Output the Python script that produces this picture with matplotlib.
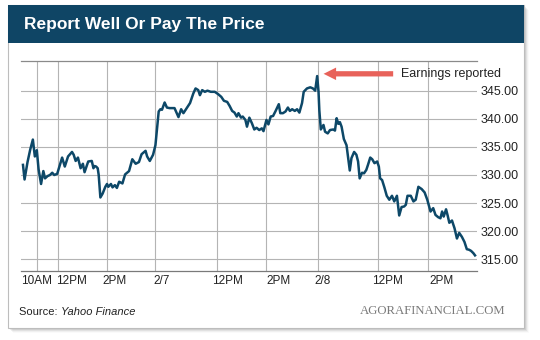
import matplotlib
matplotlib.use("Agg")
import matplotlib.pyplot as plt
from matplotlib.patches import Rectangle

plt.rcParams['font.family'] = ['Liberation Sans', 'DejaVu Sans']

# Intraday position (chart time units) and share price over three sessions
t = [17.7, 19.3, 22.3, 25, 27.7, 29.7, 31.7, 33.5, 36, 38.3, 40, 42.5, 45, 47.3, 49.3,
     52.3, 55, 57.3, 60, 63.3, 67.3, 69, 71, 73.3, 76, 78.3, 80, 83.7, 87.3, 89, 90,
     91.7, 93.3, 94.3, 96, 98.3, 101, 102.7, 104, 106.7, 108.3, 110.7, 112.7, 115,
     118.3, 121, 125, 128.3, 131.7, 135, 137.7, 141.7, 143.3, 146, 149.3, 151.7,
     153.5, 155, 156.7, 158.3, 161, 163.3, 166, 169.3, 171, 175, 177.7, 180, 183.3,
     186.7, 190, 192.3, 195, 196.7, 199, 201.7, 204.3, 207.7, 211.7, 215, 218.3, 221,
     224.3, 226.7, 229.3, 231.7, 234, 235.7, 238.3, 240, 242.7, 244.3, 246.7, 249.3,
     251.7, 254, 256.7, 259.3, 261, 264, 266, 268.3, 270.7, 273.3, 276.5, 278, 280.7,
     283.3, 285.7, 287.7, 290, 292.7, 295, 297.3, 300, 301.7, 305, 308.3, 311, 313.3,
     315.3, 316.7, 317.5, 319, 321.7, 323.3, 326, 328.3, 331.7, 333.3, 335, 336.7,
     338.3, 340, 342.3, 345, 346.7, 348.3, 350, 352.7, 355, 356.7, 358.3, 360.7,
     362.7, 365, 366.7, 369, 371, 373.3, 376, 377.7, 379, 381, 383.3, 385.7, 388.3,
     391, 393.3, 396, 398.3, 400.7, 403.3, 405, 406.7, 410, 412.7, 415, 417.7, 421,
     424, 426.7, 430, 432.7, 435, 437.7, 440, 441.7, 443.3, 445.7, 447.3, 449, 451.7,
     454.3, 456.7, 459, 461.7, 464.3, 466.7, 469, 471, 473.3, 475]
price = [331.8, 329.2, 332.3, 334.5, 336.3, 333.3, 334.4, 331.0, 328.4, 330.7, 329.4,
         329.8, 330.0, 330.4, 330.0, 330.2, 331.8, 333.1, 331.5, 333.3, 334.1, 333.6,
         332.5, 333.1, 331.2, 332.0, 330.5, 332.4, 332.5, 331.2, 331.6, 331.5, 331.2,
         330.0, 326.0, 326.7, 327.9, 328.4, 327.9, 328.4, 327.8, 328.2, 327.7, 328.8,
         328.5, 330.1, 330.7, 332.8, 332.0, 332.3, 333.7, 334.3, 333.3, 332.5, 333.6,
         335.3, 338.5, 341.3, 341.7, 341.6, 342.9, 342.0, 341.9, 341.9, 341.9, 340.3,
         341.7, 341.0, 341.9, 342.8, 344.5, 345.4, 345.1, 344.2, 345.1, 344.8, 345.0,
         344.8, 344.8, 344.4, 343.9, 343.2, 343.0, 342.3, 341.4, 341.1, 340.4, 341.0,
         340.2, 340.4, 339.8, 338.6, 340.2, 339.2, 338.1, 338.4, 338.0, 338.3, 337.8,
         339.8, 339.0, 340.4, 340.5, 341.4, 342.6, 341.0, 341.0, 341.3, 342.0, 341.4,
         341.7, 341.4, 341.7, 341.1, 342.8, 344.8, 345.4, 345.6, 345.4, 345.0, 347.6,
         344.8, 341.5, 338.1, 338.9, 337.7, 337.4, 338.0, 338.1, 337.9, 340.1, 339.1,
         339.4, 338.6, 336.4, 335.3, 333.0, 330.8, 333.0, 334.1, 333.6, 332.4, 329.4,
         330.4, 330.3, 330.9, 331.8, 333.1, 332.8, 332.1, 332.4, 331.5, 329.4, 329.1,
         327.8, 326.3, 325.6, 326.3, 325.3, 326.3, 322.8, 324.3, 324.4, 324.7, 326.3,
         326.3, 325.3, 325.6, 327.9, 327.5, 326.9, 325.6, 323.5, 324.1, 322.9, 322.5,
         322.3, 323.5, 322.6, 323.9, 322.8, 321.5, 321.9, 320.5, 318.7, 319.7, 319.0,
         318.1, 316.8, 316.7, 316.5, 316.1, 315.7]

# Time axis: gridline positions and where each label starts
grid_t = [32, 53, 103, 151, 214.3, 263.3, 316, 377, 427]
label_t = [15.7, 50.7, 97.7, 150, 209, 264.3, 312.7, 371, 429]
time_labels = ["10AM", "12PM", "2PM", "2/7", "12PM", "2PM", "2/8", "12PM", "2PM"]
price_ticks = [315, 320, 325, 330, 335, 340, 345]

# Earnings release marker
event_t, event_price = 319, 348.0
event_text = "Earnings reported"

title = "Report Well Or Pay The Price"
source_label = "Source: "
source_name = "Yahoo Finance"
brand = "AGORAFINANCIAL.COM"

W, H = 540, 340
fig = plt.figure(figsize=(W / 100, H / 100), dpi=100)
fig.patch.set_facecolor("white")

def fx(px):
    return px / W

def fy(py):
    return (H - py) / H

# Card with soft drop shadow
cx0, cy0, cx1, cy1 = 8, 5, 524, 328
for i, a in enumerate([0.10, 0.08, 0.06, 0.04, 0.02]):
    off = 1 + i
    fig.patches.append(Rectangle((fx(cx0 + off), fy(cy1 + off)),
                                 fx(cx1 - cx0), (cy1 - cy0) / H,
                                 transform=fig.transFigure, facecolor="black",
                                 edgecolor="none", alpha=a, zorder=0))
fig.patches.append(Rectangle((fx(cx0), fy(cy1)), fx(cx1 - cx0), (cy1 - cy0) / H,
                             transform=fig.transFigure, facecolor="white",
                             edgecolor="#bdbdbd", linewidth=0.8, zorder=1))
# Header band
fig.patches.append(Rectangle((fx(cx0), fy(43)), fx(cx1 - cx0), 38 / H,
                             transform=fig.transFigure, facecolor="#0f4565",
                             edgecolor="none", zorder=2))
fig.text(fx(24), fy(25), title, color="white", fontsize=12.5, fontweight="bold",
         ha="left", va="center", zorder=3)

# Plot area
ax = fig.add_axes([fx(21), fy(271), fx(477 - 21), 210 / H])
ax.set_zorder(4)
ax.patch.set_alpha(0)
ax.plot(t, price, color="#0d4868", linewidth=1.8, solid_joinstyle="round",
        clip_on=False, zorder=3)
ax.set_xlim(21, 477)
ax.set_ylim(312.92, 350.28)

ax.set_xticks(grid_t)
ax.set_xticklabels([])
ax.set_xticks(label_t, minor=True)
ax.set_xticklabels(time_labels, minor=True, ha="left", fontsize=8.5, color="#222222")
ax.tick_params(axis="x", which="both", length=0)
ax.tick_params(axis="x", which="minor", pad=3)

ax.yaxis.tick_right()
ax.set_yticks(price_ticks)
ax.set_yticklabels([f"{v:.2f}" for v in price_ticks], fontsize=9, color="#222222")
ax.tick_params(axis="y", length=0, pad=2.5)

ax.grid(True, which="major", color="#b4b4b4", linewidth=0.8)
ax.set_axisbelow(True)
for side in ("left", "right"):
    ax.spines[side].set_visible(False)
ax.spines["top"].set_color("#8a8a8a")
ax.spines["top"].set_linewidth(0.9)
ax.spines["bottom"].set_color("#7a7a7a")
ax.spines["bottom"].set_linewidth(0.9)

ax.annotate("", xy=(event_t, event_price), xytext=(event_t + 76, event_price),
            arrowprops=dict(arrowstyle="simple,head_length=0.9,head_width=0.9,tail_width=0.38",
                            color="#e8625a", lw=0),
            annotation_clip=False, zorder=5)
ax.text(event_t + 81.5, event_price, event_text, fontsize=9, color="#222222",
        ha="left", va="center", clip_on=False)

# Footer
src = fig.text(fx(19), fy(317), source_label, fontsize=8, color="#222222",
               ha="left", va="bottom", zorder=3)
ax.annotate(source_name, xy=(1, 0), xycoords=src, fontsize=8,
            style="italic", color="#222222", ha="left", va="bottom",
            annotation_clip=False)
fig.text(fx(505), fy(311), brand, fontsize=9.2, color="#7a7a7a",
         family=["Liberation Serif", "DejaVu Serif"], ha="right", va="center", zorder=3)

fig.savefig("out.png", dpi=100, facecolor="white")
